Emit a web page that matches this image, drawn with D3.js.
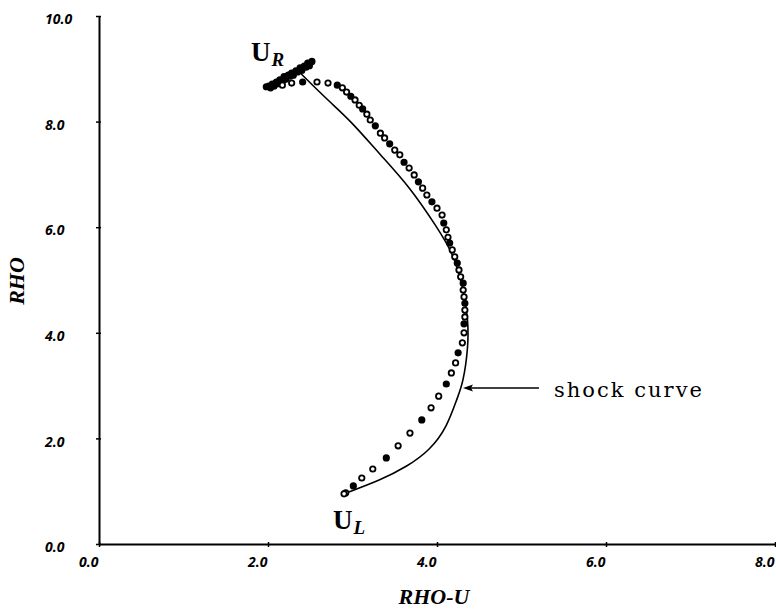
<!DOCTYPE html>
<html>
<head>
<meta charset="utf-8">
<script src="https://cdn.jsdelivr.net/npm/d3@7"></script>
<style>
  body { margin: 0; background: #fff; }
  svg { display: block; }
</style>
</head>
<body>
<div id="chart"></div>
<script>
// axis ticks
const xTicks = [0, 2, 4, 6, 8];
const yTicks = [0, 2, 4, 6, 8, 10];

// exact shock curve (RHO-U, RHO), U_L -> U_R
const shockCurve = [
  [2.93, 0.97], [3.33, 1.21], [3.64, 1.46], [3.92, 1.78], [4.12, 2.22],
  [4.24, 2.77], [4.31, 3.05], [4.37, 3.73], [4.37, 4.24], [4.31, 4.87],
  [4.19, 5.51], [4.00, 6.00], [3.68, 6.76], [3.33, 7.37], [2.97, 8.03],
  [2.73, 8.37], [2.37, 8.94]
];

// computed states, bunched up near U_R
const clusterUR = [
  [1.98, 8.66], [2.01, 8.67], [2.03, 8.64], [2.05, 8.71], [2.08, 8.70],
  [2.10, 8.75], [2.14, 8.79], [2.19, 8.85], [2.24, 8.88], [2.28, 8.92],
  [2.33, 8.96], [2.38, 9.02], [2.43, 9.05], [2.47, 9.11], [2.52, 9.14],
  [2.12, 8.72], [2.17, 8.77], [2.21, 8.80], [2.26, 8.86], [2.30, 8.88],
  [2.35, 8.94], [2.40, 8.97], [2.45, 9.03], [2.49, 9.06], [2.07, 8.67]
];

// computed states along the curve
const computed = [
  [2.17, 8.69], [2.28, 8.73], [2.41, 8.75], [2.58, 8.75], [2.71, 8.73],
  [2.82, 8.69], [2.88, 8.64], [2.93, 8.56], [2.98, 8.48], [3.03, 8.41],
  [3.08, 8.31], [3.12, 8.24], [3.17, 8.14], [3.21, 8.03], [3.27, 7.92],
  [3.33, 7.78], [3.38, 7.69], [3.44, 7.58], [3.50, 7.46], [3.56, 7.37],
  [3.61, 7.23], [3.67, 7.12], [3.73, 6.99], [3.78, 6.86], [3.83, 6.74],
  [3.88, 6.61], [3.94, 6.48], [4.00, 6.36], [4.06, 6.23], [4.08, 6.08],
  [4.11, 5.95], [4.13, 5.81], [4.15, 5.70], [4.18, 5.57], [4.21, 5.44],
  [4.24, 5.32], [4.26, 5.19], [4.28, 5.06], [4.31, 4.94], [4.31, 4.81],
  [4.32, 4.68], [4.33, 4.56], [4.33, 4.43], [4.33, 4.30], [4.32, 4.17],
  [4.32, 4.00], [4.30, 3.81], [4.25, 3.62], [4.22, 3.43], [4.17, 3.24],
  [4.11, 3.03], [4.02, 2.80], [3.93, 2.58], [3.82, 2.35], [3.68, 2.10],
  [3.54, 1.86], [3.40, 1.63], [3.24, 1.42], [3.11, 1.25], [3.01, 1.10],
  [2.92, 0.97], [2.90, 0.95]
];

const width = 776;
const height = 609;

const x = d3.scaleLinear().domain([0, 8]).range([99, 775]);
const y = d3.scaleLinear().domain([0, 10]).range([544, 16]);

const svg = d3.select('#chart').append('svg')
    .attr('width', width)
    .attr('height', height);

const tickFont = '"Open Sans", "DejaVu Sans", sans-serif';
const serif = '"Liberation Serif", "Times New Roman", serif';

// x axis
const xAxis = svg.append('g')
    .attr('transform', `translate(0,${y(0)})`)
    .call(d3.axisBottom(x).tickValues(xTicks).tickFormat(d3.format('.1f')).tickSizeInner(3).tickSizeOuter(0));
xAxis.select('.domain').attr('stroke', '#000').attr('stroke-width', 2);
xAxis.selectAll('.tick line').attr('stroke', '#000').attr('stroke-width', 1.5).attr('y1', -2);
xAxis.selectAll('.tick text')
    .attr('text-anchor', 'end')
    .attr('dx', -1)
    .attr('y', 23)
    .attr('dy', 0)
    .style('font-family', tickFont)
    .style('font-style', 'italic')
    .style('font-weight', 'bold')
    .style('font-size', '14px')
    .attr('fill', '#000');

// y axis
const yAxis = svg.append('g')
    .attr('transform', `translate(${x(0)},0)`)
    .call(d3.axisLeft(y).tickValues(yTicks).tickFormat(d3.format('.1f')).tickSizeInner(3).tickSizeOuter(0));
yAxis.select('.domain').attr('stroke', '#000').attr('stroke-width', 2);
yAxis.selectAll('.tick line').attr('stroke', '#000').attr('stroke-width', 1.5).attr('x1', 2);
yAxis.selectAll('.tick text')
    .attr('text-anchor', 'start')
    .attr('x', -54)
    .attr('dy', '0.55em')
    .style('font-family', tickFont)
    .style('font-style', 'italic')
    .style('font-weight', 'bold')
    .style('font-size', '14px')
    .attr('fill', '#000');

// axis titles
svg.append('text')
    .attr('x', 434)
    .attr('y', 604)
    .attr('text-anchor', 'middle')
    .style('font-family', serif)
    .style('font-style', 'italic')
    .style('font-weight', 'bold')
    .style('font-size', '22px')
    .text('RHO-U');

svg.append('text')
    .attr('transform', 'translate(24,281) rotate(-90)')
    .attr('text-anchor', 'middle')
    .style('font-family', serif)
    .style('font-style', 'italic')
    .style('font-weight', 'bold')
    .style('font-size', '22px')
    .text('RHO');

// shock curve
const line = d3.line()
    .x(d => x(d[0]))
    .y(d => y(d[1]))
    .curve(d3.curveBasis);

svg.append('path')
    .datum(shockCurve)
    .attr('d', line)
    .attr('fill', 'none')
    .attr('stroke', '#000')
    .attr('stroke-width', 1.6);

// computed points
svg.append('g')
    .selectAll('circle')
    .data(clusterUR.concat(computed))
    .enter().append('circle')
    .attr('cx', d => x(d[0]))
    .attr('cy', d => y(d[1]))
    .attr('r', 2.7)
    .attr('fill', (d, i) => (i < clusterUR.length || i % 3 === 0) ? '#000' : '#fff')
    .attr('stroke', '#000')
    .attr('stroke-width', 1.8);

// arrow to the shock curve
const tipX = 463, tipY = 388;
svg.append('line')
    .attr('x1', 539)
    .attr('y1', tipY)
    .attr('x2', tipX + 6)
    .attr('y2', tipY)
    .attr('stroke', '#000')
    .attr('stroke-width', 1.5);
svg.append('path')
    .attr('d', `M${tipX},${tipY} L${tipX + 10},${tipY - 3.5} L${tipX + 8},${tipY} L${tipX + 10},${tipY + 3.5} Z`)
    .attr('fill', '#000');

svg.append('text')
    .attr('x', 554)
    .attr('y', 397)
    .attr('textLength', 148)
    .attr('lengthAdjust', 'spacing')
    .style('font-family', '"DejaVu Serif", serif')
    .style('font-size', '21px')
    .text('shock curve');

// state labels
function stateLabel(px, py, sub) {
  const t = svg.append('text')
      .attr('x', px)
      .attr('y', py)
      .style('font-family', serif);
  t.append('tspan')
      .style('font-weight', 'bold')
      .style('font-size', '27px')
      .text('U');
  t.append('tspan')
      .attr('dx', 1)
      .attr('dy', 5)
      .style('font-weight', 'bold')
      .style('font-style', 'italic')
      .style('font-size', '19px')
      .text(sub);
}
stateLabel(251, 61, 'R');
stateLabel(333, 529, 'L');
</script>
</body>
</html>
